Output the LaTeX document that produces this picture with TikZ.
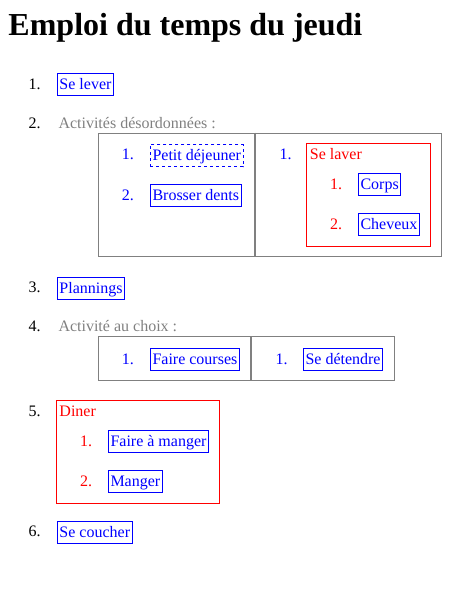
\documentclass[tikz,border=0pt]{standalone}
\usepackage{fontspec}
\setmainfont{Liberation Serif}
\definecolor{webgray}{HTML}{808080}
\definecolor{webblue}{HTML}{0000FF}
\definecolor{webred}{HTML}{FF0000}
\newcommand{\fs}{\fontsize{16}{19}\selectfont}
\tikzset{
  itembox/.style={draw=webblue, text=webblue, line width=1pt, inner xsep=2.2pt, inner ysep=2pt,
    text height=14.5pt, text depth=4pt, anchor=north west, font=\fs},
  dashbox/.style={itembox, dash pattern=on 3pt off 3pt},
  num/.style={anchor=base west, inner sep=0pt, font=\fs},
  grid/.style={draw=webgray, line width=1pt},
  divider/.style={draw=webgray, line width=2pt},
  group/.style={draw=webred, line width=1pt},
}
\begin{document}
\begin{tikzpicture}[x=1pt,y=-1pt]
\useasboundingbox (0,0) rectangle (473,598);
\node[anchor=base west, inner sep=0pt, font=\fontsize{32}{37}\selectfont\bfseries] (title) at (8.3,35) {Emploi du temps du jeudi};
% item 1
\node[num] (n1) at (28.3,89) {1.};
\node[itembox] (lever) at (56.8,72.5) {Se lever};
% item 2
\node[num] (n2) at (28.3,128.5) {2.};
\node[num, text=webgray] (t2) at (58.3,128.5) {Activités désordonnées :};
\draw[grid] (98.8,133.2) rectangle (441.2,256.5);
\draw[divider] (255,132.7) -- (255,257);
\node[num, text=webblue] (a1) at (121.7,159.3) {1.};
\node[dashbox] (dej) at (149.8,143.8) {Petit déjeuner};
\node[num, text=webblue] (a2) at (121.7,200) {2.};
\node[itembox] (dents) at (149.8,183.8) {Brosser dents};
\node[num, text=webblue] (b1) at (279.3,159.3) {1.};
\draw[group] (306.8,143.8) rectangle (430.2,246.2);
\node[num, text=webred] (laver) at (309.7,159.3) {Se laver};
\node[num, text=webred] (c1) at (330,189) {1.};
\node[itembox] (corps) at (357.8,172.8) {Corps};
\node[num, text=webred] (c2) at (330,229.3) {2.};
\node[itembox] (cheveux) at (357.8,212.8) {Cheveux};
% item 3
\node[num] (n3) at (28.3,292.7) {3.};
\node[itembox] (plannings) at (56.8,276.5) {Plannings};
% item 4
\node[num] (n4) at (28.3,331.7) {4.};
\node[num, text=webgray] (t4) at (58.3,331.7) {Activité au choix :};
\draw[grid] (98.8,336.8) rectangle (394.2,380.8);
\draw[divider] (250.5,336.3) -- (250.5,381.3);
\node[num, text=webblue] (d1) at (121.7,364) {1.};
\node[itembox] (courses) at (149.8,347.8) {Faire courses};
\node[num, text=webblue] (e1) at (275.3,364) {1.};
\node[itembox] (detendre) at (302.8,347.8) {Se détendre};
% item 5
\node[num] (n5) at (28.3,416.3) {5.};
\draw[group] (56.8,400.8) rectangle (219.2,503.2);
\node[num, text=webred] (diner) at (59.3,416.3) {Diner};
\node[num, text=webred] (f1) at (80,446) {1.};
\node[itembox] (faire) at (107.8,429.8) {Faire à manger};
\node[num, text=webred] (f2) at (80,486) {2.};
\node[itembox] (manger) at (107.8,469.8) {Manger};
% item 6
\node[num] (n6) at (28.3,536.7) {6.};
\node[itembox] (coucher) at (56.8,520.8) {Se coucher};
\end{tikzpicture}
\end{document}
